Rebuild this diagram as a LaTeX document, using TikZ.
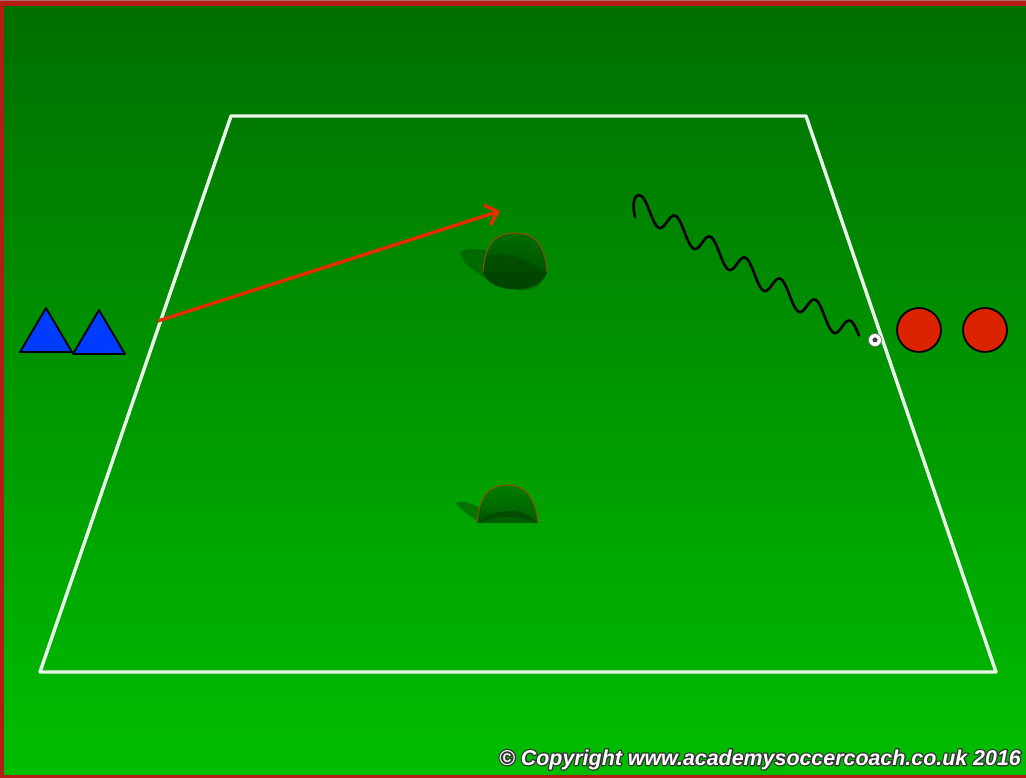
\documentclass[tikz,border=0pt]{standalone}
\usepackage{fontspec}
\newfontfamily\cfont{Liberation Sans}
\usetikzlibrary{arrows.meta,shapes.geometric}
\definecolor{topgreen}{RGB}{0,110,0}
\definecolor{botgreen}{RGB}{0,190,0}
\definecolor{edgered}{RGB}{180,28,22}
\definecolor{arrowred}{RGB}{230,45,0}
\definecolor{bluep}{RGB}{0,60,255}
\definecolor{redp}{RGB}{220,35,0}
\definecolor{goaltop}{RGB}{0,105,0}
\definecolor{goalbot}{RGB}{0,80,0}
\definecolor{goaldark}{RGB}{0,70,0}
\definecolor{goalrim}{RGB}{150,75,10}
\definecolor{shadowg}{RGB}{0,80,0}
\definecolor{fieldwhite}{RGB}{235,245,235}
\tikzset{
  fieldline/.style={draw=fieldwhite,line width=3.4pt,line join=round},
  passarrow/.style={draw=arrowred,line width=3.4pt,-{Straight Barb[length=11pt,width=21pt,line width=3.4pt]}},
  dribble/.style={draw=black,line width=2.6pt,line cap=round,line join=round},
  bluecone/.style={draw=black,fill=bluep,line width=1.8pt,line join=round},
  redplayer/.style={circle,draw=black,fill=redp,line width=1.8pt,minimum size=44pt,inner sep=0pt},
  goalrimline/.style={draw=goalrim,line width=1pt},
  goalshadow/.style={fill=shadowg,opacity=0.55},
  copytext/.style={font=\cfont\bfseries\itshape\fontsize{21.4pt}{23pt}\selectfont,inner sep=0pt,anchor=base west}
}
\begin{document}
\begin{tikzpicture}[x=1pt,y=-1pt]
\useasboundingbox (0,0) rectangle (1026,778);
% background
\shade[top color=topgreen,bottom color=botgreen] (0,0) rectangle (1026,778);
\fill[edgered] (0,0) rectangle (1026,6);
\fill[edgered] (0,0) rectangle (4,778);
\fill[edgered] (0,775) rectangle (1026,778);
\fill[black!35,opacity=0.6] (0,0) rectangle (1026,1.5);
% field
\coordinate (f1) at (231,116);
\coordinate (f2) at (806,116);
\coordinate (f3) at (996,672);
\coordinate (f4) at (40,672);
\draw[fieldline] (f1) -- (f2) -- (f3) -- (f4) -- cycle;
% goal 1
\fill[goalshadow] (461,252) .. controls (468,244) and (500,252) .. (528,265) .. controls (548,275) and (545,292) .. (518,290) .. controls (492,286) and (456,262) .. cycle;
\fill[goaldark] (483,272) .. controls (488,295) and (542,295) .. (547,272) -- cycle;
\shade[top color=goaltop,bottom color=goalbot,opacity=0.9] (483,272) .. controls (485,242) and (497,233) .. (515,233) .. controls (533,233) and (545,242) .. (547,272) -- cycle;
\fill[goaldark,opacity=0.55] (486,256) .. controls (505,250) and (535,262) .. (546,272) .. controls (530,282) and (500,280) .. (484,272) -- cycle;
\draw[goalrimline] (483,272) .. controls (485,242) and (497,233) .. (515,233) .. controls (533,233) and (545,242) .. (547,272);
% goal 2
\fill[goalshadow] (456,503) .. controls (464,499) and (480,506) .. (492,516) -- (480,523) .. controls (470,516) and (460,510) .. cycle;
\shade[top color=goaltop!70!green!80!black,bottom color=goalbot,opacity=0.85] (477,523) .. controls (479,494) and (491,485) .. (507,485) .. controls (523,485) and (535,494) .. (538,523) -- cycle;
\fill[goaldark,opacity=0.8] (480,523) .. controls (488,508) and (528,506) .. (536,523) .. controls (525,515) and (492,515) .. cycle;
\draw[goalrimline] (477,523) .. controls (479,494) and (491,485) .. (507,485) .. controls (523,485) and (535,494) .. (538,523);
% pass arrow
\coordinate (pa) at (158,321);
\coordinate (pb) at (500,211);
\draw[passarrow] (pa) -- (pb);
% dribble
\coordinate (d0) at (635,217);
\coordinate (d1) at (645,200.7);
\draw[dribble] (d0) .. controls (632,204) and (634,195) .. (639,195) .. controls (642,195) and (644,198) .. (d1);
\draw[dribble] plot[domain=-4.6:209.4,samples=220,smooth] ({649.6+\x},{217.5+0.6*(\x-10.4)+11*sin(10.2857*\x)});
% ball
\node[circle,fill=white,draw=black!55,line width=0.7pt,minimum size=13pt,inner sep=0pt] (ball) at (875,340) {};
\node[regular polygon,regular polygon sides=5,fill=black!75,minimum size=5.5pt,inner sep=0pt] (ballc) at (ball.center) {};
% blue cones
\coordinate (t1a) at (20,352);
\coordinate (t1b) at (72,352);
\coordinate (t1c) at (46,308);
\coordinate (t2a) at (73,354);
\coordinate (t2b) at (125,354);
\coordinate (t2c) at (99,310);
\draw[bluecone] (t1a) -- (t1b) -- (t1c) -- cycle;
\draw[bluecone] (t2a) -- (t2b) -- (t2c) -- cycle;
% red players
\node[redplayer] (r1) at (919,330) {};
\node[redplayer] (r2) at (985,330) {};
% copyright: dark outline behind, white text on top
\node[copytext,text=black!75] (copyoutline) at (499,765) {\special{pdf:literal direct 0.2 0.2 0.2 RG 2 Tr 2.6 w 1 j}© Copyright www.academysoccercoach.co.uk 2016\special{pdf:literal direct 0 Tr}};
\node[copytext,text=white] (copy) at (copyoutline.base west) {© Copyright www.academysoccercoach.co.uk 2016};
\end{tikzpicture}
\end{document}
